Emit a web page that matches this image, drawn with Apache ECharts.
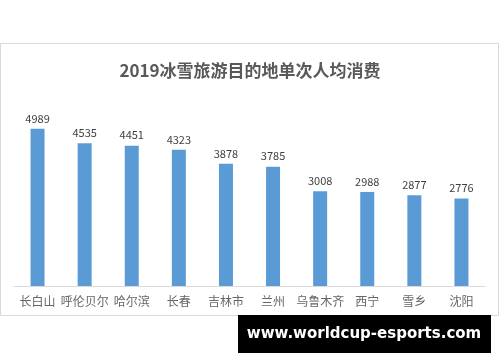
<!DOCTYPE html>
<html><head><meta charset="utf-8">
<script src="https://cdn.jsdelivr.net/npm/echarts@6/dist/echarts.min.js"></script>
<style>html,body{margin:0;padding:0;background:#fff}#c{width:500px;height:362px}</style>
</head><body><div id="c"></div>
<script>
const categories = ['长白山','呼伦贝尔','哈尔滨','长春','吉林市','兰州','乌鲁木齐','西宁','雪乡','沈阳'];
const values = [4989,4535,4451,4323,3878,3785,3008,2988,2877,2776];
const titleText = '2019冰雪旅游目的地单次人均消费';
const watermark = 'www.worldcup-esports.com';

const chart = echarts.init(document.getElementById('c'), null, {renderer:'canvas'});
chart.setOption({
  animation:false,
  backgroundColor:'#fff',
  title:{text:titleText,left:'center',top:57,textStyle:{fontFamily:'Noto Sans CJK SC',fontSize:17,fontWeight:'bold',color:'#595959'}},
  grid:{left:14,right:15,top:97,bottom:76},
  xAxis:{type:'category',data:categories,
    axisLine:{lineStyle:{color:'#d9d9d9'}},axisTick:{show:false},
    axisLabel:{color:'#666666',fontSize:12,fontFamily:'Noto Sans CJK SC',margin:9,interval:0}},
  yAxis:{type:'value',min:0,max:6000,show:false,splitLine:{show:false}},
  series:[{type:'bar',data:values,barWidth:14,itemStyle:{color:'#5b9bd5'},
    label:{show:true,position:'top',distance:5,color:'#404040',fontSize:11,fontFamily:'Noto Sans CJK SC'}}],
  graphic:[
    {type:'rect',shape:{x:0.5,y:43.5,width:498,height:272},style:{fill:null,stroke:'#d9d9d9',lineWidth:1},z:-1},
    {type:'rect',shape:{x:238,y:315,width:253,height:38},style:{fill:'#000'},z:10},
    {type:'text',x:364,y:334,style:{text:watermark,fill:'#fff',font:'bold 15px "DejaVu Sans"',textAlign:'center',textVerticalAlign:'middle'},z:11}
  ]
});
</script></body></html>
